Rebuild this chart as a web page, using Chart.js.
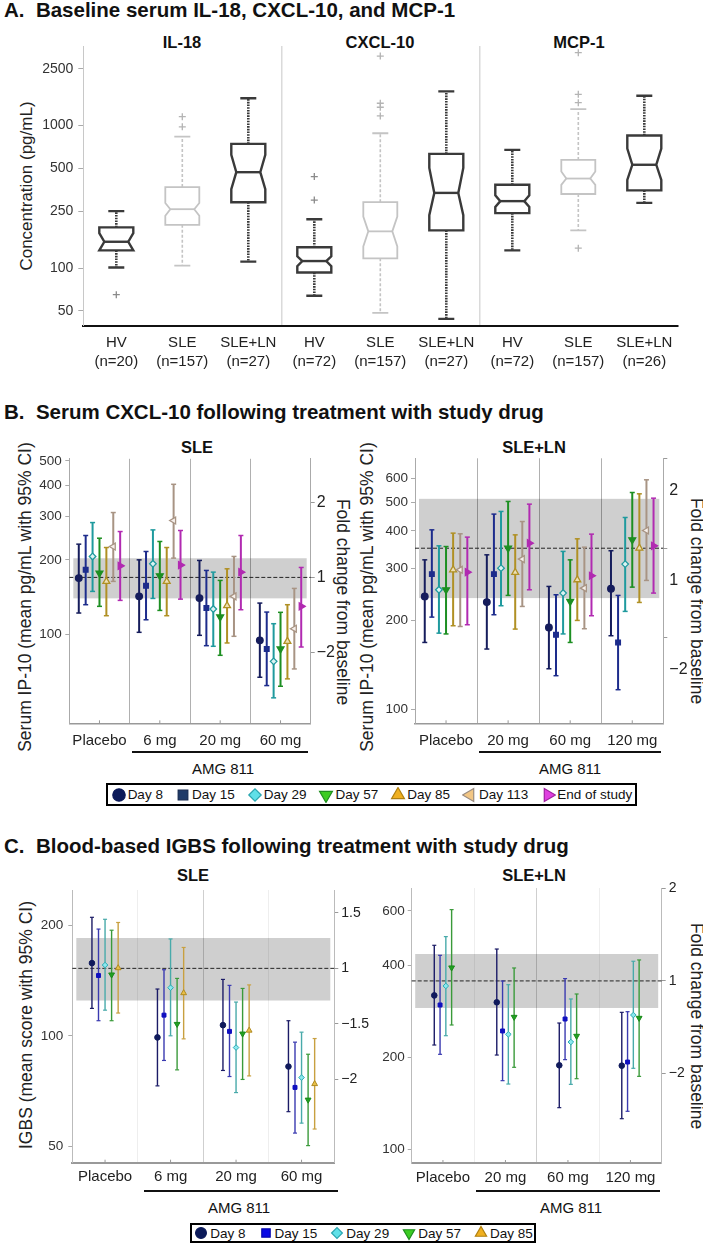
<!DOCTYPE html>
<html>
<head>
<meta charset="utf-8">
<script src="https://cdn.jsdelivr.net/npm/chart.js@4.4.0/dist/chart.umd.min.js"></script>
<style>
  body { margin: 0; width: 703px; height: 1246px; position: relative; overflow: hidden; background: #fff;
         font-family: "Liberation Sans", Arial, Helvetica, sans-serif; color: #111; }
  canvas.ch { position: absolute; }
  .ptitle { position: absolute; left: 4px; font-weight: bold; font-size: 20.5px; line-height: 20px; white-space: pre; }
  .sub { position: absolute; font-weight: bold; font-size: 16.5px; line-height: 1; transform: translate(-50%, -50%); white-space: nowrap; }
  .amg { position: absolute; font-size: 15px; line-height: 1; transform: translate(-50%, -50%); white-space: nowrap; }
  .uline { position: absolute; height: 0; border-top: 2px solid #111; }
  .vt { position: absolute; font-size: 17.5px; line-height: 1; white-space: nowrap; color: #222; }
  .vt.l { transform: translate(-50%, -50%) rotate(-90deg); }
  .vt.r { transform: translate(-50%, -50%) rotate(90deg); }
  .legend { position: absolute; border: 2px solid #000; box-sizing: border-box; display: flex;
            justify-content: center; align-items: center; gap: 12px; font-size: 13.5px; }
  .li { display: inline-flex; align-items: center; white-space: nowrap; }
  .li canvas { margin-right: 1px; }
</style>
</head>
<body>

<div class="ptitle" style="top:0px">A.  Baseline serum IL-18, CXCL-10, and MCP-1</div>
<div class="ptitle" style="top:402px">B.  Serum CXCL-10 following treatment with study drug</div>
<div class="ptitle" style="top:836px">C.  Blood-based IGBS following treatment with study drug</div>

<div class="sub" style="left:182px; top:42px">IL-18</div>
<div class="sub" style="left:380px; top:42px">CXCL-10</div>
<div class="sub" style="left:579px; top:42px">MCP-1</div>
<div class="vt l" style="left:26px; top:186px; font-size:17px">Concentration (pg/mL)</div>

<div class="sub" style="left:197px; top:447px">SLE</div>
<div class="sub" style="left:534px; top:447px">SLE+LN</div>
<div class="vt l" style="left:26px; top:597px">Serum IP-10 (mean pg/mL with 95% CI)</div>
<div class="vt r" style="left:342px; top:602px">Fold change from baseline</div>
<div class="vt l" style="left:368px; top:597px">Serum IP-10 (mean pg/mL with 95% CI)</div>
<div class="vt r" style="left:696px; top:601px">Fold change from baseline</div>
<div class="uline" style="left:132px; width:176px; top:751px"></div>
<div class="uline" style="left:479px; width:182px; top:751px"></div>
<div class="amg" style="left:223px; top:768px">AMG 811</div>
<div class="amg" style="left:570px; top:768px">AMG 811</div>
<div class="legend" id="legB" style="left:106px; top:783px; width:531px; height:23px"></div>

<div class="sub" style="left:193px; top:875px">SLE</div>
<div class="sub" style="left:534px; top:875px">SLE+LN</div>
<div class="vt l" style="left:27px; top:1025px">IGBS (mean score with 95% CI)</div>
<div class="vt r" style="left:696px; top:1026px">Fold change from baseline</div>
<div class="uline" style="left:144px; width:194px; top:1190px"></div>
<div class="uline" style="left:476px; width:184px; top:1190px"></div>
<div class="amg" style="left:239px; top:1207px">AMG 811</div>
<div class="amg" style="left:571px; top:1207px">AMG 811</div>
<div class="legend" id="legC" style="left:190px; top:1223px; width:346px; height:20px"></div>

<script>
// ---- Panel A: baseline box plots (pg/mL) ----
const catsA = [['HV', '(n=20)'], ['SLE', '(n=157)'], ['SLE+LN', '(n=27)'],
               ['HV', '(n=72)'], ['SLE', '(n=157)'], ['SLE+LN', '(n=27)'],
               ['HV', '(n=72)'], ['SLE', '(n=157)'], ['SLE+LN', '(n=26)']];
const whiskLoA = [101, 104, 111, 64, 48.4, 44, 133, 184, 287];
const q1A      = [133, 201, 290, 93, 117, 184, 243, 331, 351];
const notchLoA = [133, 233, 358, 103, 142, 235, 269, 384, 416];
const medA     = [153, 259, 471, 112, 181, 337, 295, 425, 531];
const notchHiA = [176, 286, 623, 121, 230, 505, 324, 476, 690];
const q3A      = [193, 370, 744, 140, 290, 633, 384, 574, 853];
const whiskHiA = [251, 837, 1555, 220, 884, 1740, 675, 1306, 1619];
const outCatA  = [0, 1, 1, 3, 3, 4, 4, 4, 4, 7, 7, 7, 7];
const outValA  = [65, 1156, 980, 439, 300, 3078, 1435, 1345, 1169, 3250, 1659, 1449, 138];
const yTicksA  = [50, 100, 250, 500, 1000, 2500];

// ---- Panel B: serum CXCL-10 (mean pg/mL, 95% CI), one row per visit, one column per dose ----
const daysB = ['Day 8', 'Day 15', 'Day 29', 'Day 57', 'Day 85', 'Day 113', 'End of study'];
const dosesSle = ['Placebo', '6 mg', '20 mg', '60 mg'];
const dosesLn = ['Placebo', '20 mg', '60 mg', '120 mg'];

const meanBSle = [[168.9, 142.6, 140.3, 94.9], [182.4, 157.3, 128, 87.6], [206.4, 192.8, 126.8, 78.1],
                  [176.9, 172.6, 117.8, 87.6], [163.8, 163.8, 130.8, 94], [226.3, 287.9, 142.6, 105.7],
                  [189.2, 190.5, 178.5, 130]];
const loBSle   = [[122.2, 102.2, 99.4, 67.4], [132, 114.8, 90.3, 62.4], [149.3, 139.9, 89.8, 55.7],
                  [130, 125.2, 82.6, 62], [119.2, 119.2, 92.6, 66.4], [163.8, 203.2, 98.5, 72.8],
                  [137.4, 139, 126, 89.2]];
const hiBSle   = [[231.3, 200, 198.9, 134], [250.6, 216.1, 181.3, 123.3], [282.5, 264, 178.5, 110.7],
                  [244.4, 237.1, 165.3, 123], [224.2, 224.2, 184.1, 132], [310, 402.7, 206.4, 153.5],
                  [260, 262.5, 250.6, 186.4]];

const meanBLn = [[240.8, 230.4, 189.3, 255.5], [286.3, 286.3, 178.8, 168.5], [253.5, 299.9, 247.1, 309.4],
                 [253.5, 350.2, 231.6, 373.6], [296, 290, 274, 350.2], [296, 321.6, 256.8, 401.7],
                 [290.7, 364, 282.6, 356.5]];
const loBLn   = [[168.5, 160.1, 137.4, 177.5], [205.1, 208.9, 130.2, 116.8], [181.1, 224, 180, 214.4],
                 [180, 242.7, 168.5, 258.8], [191.8, 186.9, 199.9, 229.8], [190.7, 222.8, 187.4, 272.6],
                 [193.3, 253.5, 207.3, 247.1]];
const hiBLn   = [[319.8, 332.5, 260.2, 343.2], [403.6, 456, 243.9, 242.7], [356.5, 465.5, 341.4, 444.2],
                 [354.6, 503, 319.8, 539.2], [393.4, 388.2, 376.5, 533.7], [391.4, 430.5, 352.8, 595],
                 [381.4, 492.6, 390.4, 516]];

const baseBSle = 170, bandBSle = [140, 203];
const baseBLn = 350, bandBLn = [237.7, 513.4];
const yTicksBSle = [100, 200, 300, 400, 500];
const yTicksBLn = [100, 200, 300, 400, 500, 600];
const foldTicksB = [0.5, 1, 2];
const foldLabelsB = ['\u22122', '1', '2'];

// ---- Panel C: blood IGBS (mean score, 95% CI) ----
const daysC = ['Day 8', 'Day 15', 'Day 29', 'Day 57', 'Day 85'];
const meanCSle = [[157.6, 99, 106.9, 82.5], [145.8, 113.8, 102.8, 72.4], [155.7, 135.1, 92.9, 77],
                  [146.6, 107.6, 101.3, 67], [152.8, 130.7, 103.4, 74]];
const loCSle   = [[118.7, 73.1, 80.5, 62.2], [109.9, 85.7, 77.5, 54.4], [117.4, 100, 70.1, 57.9],
                  [109.9, 80.8, 76.1, 50.3], [115.3, 98.1, 77.8, 55.8]];
const hiCSle   = [[209.9, 134, 142.3, 109.9], [195, 151.2, 137.1, 96.1], [207.3, 183.3, 123.5, 102.3],
                  [193.6, 143.2, 134.5, 89.1], [203.2, 173.8, 137.5, 98.3]];

const meanCLn = [[318.4, 302.3, 188.4, 187.9], [296.3, 243.8, 266.7, 193.1], [341.8, 237.7, 224.4, 274.8],
                 [392.2, 270.7, 234.8, 268.7]];
const loCLn   = [[219.4, 203.5, 137.1, 126.2], [204.6, 167.9, 196.6, 133.4], [235.3, 163.7, 163.3, 184.2],
                 [255, 185.6, 170.4, 173.4]];
const hiCLn   = [[463.8, 451, 258.8, 280.4], [430.2, 354.8, 361.2, 281.8], [495, 345.1, 310, 411.4],
                 [606.2, 391.2, 321.8, 415.5]];

const baseCSle = 152.5, bandCSle = [124.7, 184.4];
const baseCLn = 355, bandCLn = [289.7, 434.5];
const yTicksCSle = [50, 100, 200];
const yTicksCLn = [100, 200, 400, 600];
const foldTicksCSle = [0.5, 0.707, 1, 1.414];
const foldLabelsCSle = ['\u22122', '\u22121.5', '1', '1.5'];
const foldTicksCLn = [0.5, 1, 2];
const foldLabelsCLn = ['\u22122', '1', '2'];

// ---- styles ----
Chart.defaults.font.family = '"Liberation Sans", Arial, Helvetica, sans-serif';
Chart.defaults.color = '#222';
Chart.defaults.animation = false;
Chart.defaults.responsive = false;
Chart.defaults.plugins.legend.display = false;
Chart.defaults.plugins.tooltip.enabled = false;

const lookB = [
  { style: 'circle', bar: '#161d5c', fill: '#161d5c', line: '#161d5c' },
  { style: 'rect', bar: '#1d2c8c', fill: '#1d2c8c', line: '#1d2c8c' },
  { style: 'rectRot', bar: '#1f9a9e', fill: '#dcf4f4', line: '#1f9a9e' },
  { style: 'triangle', rot: 180, bar: '#1d8f22', fill: '#1d8f22', line: '#1d8f22', k: 1.2 },
  { style: 'triangle', bar: '#b09024', fill: '#eee0b4', line: '#b09024', k: 1.2 },
  { style: 'triangle', rot: 270, bar: '#a89484', fill: '#f6efea', line: '#a89484', k: 1.2 },
  { style: 'triangle', rot: 90, bar: '#b12ab1', fill: '#b12ab1', line: '#b12ab1', k: 1.2 }
];
const legLookB = [
  { style: 'circle', fill: '#0c1a5a', line: '#0c1a5a' },
  { style: 'rect', fill: '#1f3a68', line: '#142850', k: 1.1 },
  { style: 'rectRot', fill: '#60e0e8', line: '#2aa6b0' },
  { style: 'triangle', rot: 180, fill: '#3ccc22', line: '#1f8f1f', k: 1.2 },
  { style: 'triangle', fill: '#f0b020', line: '#b08010', k: 1.2 },
  { style: 'triangle', rot: 270, fill: '#f2c684', line: '#9a8c80', k: 1.2 },
  { style: 'triangle', rot: 90, fill: '#e040e0', line: '#a020a0', k: 1.2 }
];
const lookC = [
  { style: 'circle', bar: '#1b1b66', fill: '#101a5c', line: '#101a5c' },
  { style: 'rect', bar: '#3a3ab0', fill: '#1010c0', line: '#1010c0' },
  { style: 'rectRot', bar: '#48aaaa', fill: '#8ce8ee', line: '#2aaab4' },
  { style: 'triangle', rot: 180, bar: '#3a9a3a', fill: '#22a022', line: '#1a8a1a', k: 1.2 },
  { style: 'triangle', bar: '#c8a040', fill: '#e8c048', line: '#b08a20', k: 1.2 }
];
const legLookC = [
  { style: 'circle', fill: '#0c1a5a', line: '#0c1a5a' },
  { style: 'rect', fill: '#0a0ae6', line: '#0808b0', k: 1.1 },
  { style: 'rectRot', fill: '#60e0e8', line: '#2aa6b0' },
  { style: 'triangle', rot: 180, fill: '#3ccc22', line: '#1f8f1f', k: 1.2 },
  { style: 'triangle', fill: '#f0b020', line: '#b08010', k: 1.2 }
];

function addCanvas(box) {
  const cv = document.createElement('canvas');
  cv.className = 'ch';
  cv.width = box[2];
  cv.height = box[3];
  cv.style.left = box[0] + 'px';
  cv.style.top = box[1] + 'px';
  document.body.appendChild(cv);
  return cv;
}

// ---- Panel A chart ----
const boxPlugin = {
  id: 'boxes',
  afterDatasetsDraw(chart) {
    const { ctx, scales: { x, y } } = chart;
    const py = v => y.getPixelForValue(v);
    const hw = 17, ins = 5, cap = 8;
    ctx.save();
    catsA.forEach((c, i) => {
      const light = c[0] === 'SLE';
      const col = light ? '#c4c4c4' : '#3a3a3a';
      const cx = x.getPixelForValue(i);
      ctx.strokeStyle = col;
      ctx.lineWidth = light ? 1.6 : 2.6;
      ctx.setLineDash(light ? [3, 2] : [1.6, 1.1]);
      ctx.beginPath();
      ctx.moveTo(cx, py(q3A[i])); ctx.lineTo(cx, py(whiskHiA[i]));
      ctx.moveTo(cx, py(q1A[i])); ctx.lineTo(cx, py(whiskLoA[i]));
      ctx.stroke();
      ctx.setLineDash([]);
      ctx.lineWidth = light ? 1.8 : 2.4;
      ctx.beginPath();
      [whiskHiA[i], whiskLoA[i]].forEach(v => { ctx.moveTo(cx - cap, py(v)); ctx.lineTo(cx + cap, py(v)); });
      ctx.stroke();
      ctx.fillStyle = '#fff';
      ctx.beginPath();
      ctx.moveTo(cx - hw, py(q3A[i]));
      ctx.lineTo(cx + hw, py(q3A[i]));
      ctx.lineTo(cx + hw, py(notchHiA[i]));
      ctx.lineTo(cx + hw - ins, py(medA[i]));
      ctx.lineTo(cx + hw, py(notchLoA[i]));
      ctx.lineTo(cx + hw, py(q1A[i]));
      ctx.lineTo(cx - hw, py(q1A[i]));
      ctx.lineTo(cx - hw, py(notchLoA[i]));
      ctx.lineTo(cx - hw + ins, py(medA[i]));
      ctx.lineTo(cx - hw, py(notchHiA[i]));
      ctx.closePath();
      ctx.fill();
      ctx.stroke();
      ctx.beginPath();
      ctx.moveTo(cx - hw + ins, py(medA[i]));
      ctx.lineTo(cx + hw - ins, py(medA[i]));
      ctx.stroke();
    });
    outCatA.forEach((ci, k) => {
      const light = catsA[ci][0] === 'SLE';
      ctx.strokeStyle = light ? '#b4b4b4' : '#8a8a8a';
      ctx.lineWidth = 1.3;
      Chart.helpers.drawPoint(ctx, { pointStyle: 'cross', radius: 3.5, borderWidth: 1.3 },
        x.getPixelForValue(ci), py(outValA[k]));
    });
    ctx.restore();
  }
};

new Chart(addCanvas([0, 0, 703, 380]), {
  type: 'bar',
  data: { labels: catsA, datasets: [{ data: [] }] },
  options: {
    devicePixelRatio: 1,
    layout: { padding: { top: 46, right: 25.7, left: 0, bottom: 0 } },
    scales: {
      x: {
        grid: { offset: true, drawTicks: false, lineWidth: 1.5,
                color: c => (c.index === 3 || c.index === 6) ? '#dadada' : 'rgba(0,0,0,0)' },
        border: { color: '#111', width: 2 },
        ticks: { font: { size: 15, lineHeight: 1.27 }, color: '#222', padding: 8, maxRotation: 0, autoSkip: false },
        afterFit: s => { s.height = 54.3; }
      },
      y: {
        type: 'logarithmic', min: 39.4, max: 3620,
        afterBuildTicks: s => { s.ticks = yTicksA.map(v => ({ value: v })); },
        ticks: { callback: v => String(v), font: { size: 14 }, color: '#333', padding: 5 },
        grid: { drawOnChartArea: false, tickLength: 5, color: '#aaa' },
        border: { color: '#c8c8c8', width: 1 },
        afterFit: s => { s.width = 83.3; }
      }
    }
  },
  plugins: [boxPlugin]
});

// ---- Panels B and C: error-bar charts ----
function makeErrPlugin(s) {
  return {
    id: 'errbars',
    beforeDatasetsDraw(chart) {
      const { ctx, chartArea: a, scales: { x, y } } = chart;
      ctx.save();
      const yt = y.getPixelForValue(s.band[1]), yb = y.getPixelForValue(s.band[0]);
      ctx.fillStyle = 'rgba(0,0,0,0.19)';
      ctx.fillRect(a.left + s.bandInset, yt, a.right - a.left - 2 * s.bandInset, yb - yt);
      const yl = y.getPixelForValue(s.base);
      ctx.strokeStyle = '#222';
      ctx.lineWidth = 1;
      ctx.setLineDash([4, 2]);
      ctx.beginPath(); ctx.moveTo(a.left, yl); ctx.lineTo(a.right, yl); ctx.stroke();
      ctx.setLineDash([]);
      ctx.strokeStyle = '#999';
      s.doses.forEach((d, i) => {
        const px = x.getPixelForValue(i);
        ctx.beginPath(); ctx.moveTo(px, a.bottom); ctx.lineTo(px, a.bottom - 3); ctx.stroke();
      });
      ctx.restore();
    },
    afterDatasetsDraw(chart) {
      const { ctx, scales: { y } } = chart;
      ctx.save();
      chart.data.datasets.forEach((ds, k) => {
        const lk = s.look[k];
        chart.getDatasetMeta(k).data.forEach((el, i) => {
          const px = el.x;
          ctx.strokeStyle = lk.bar;
          ctx.lineWidth = s.capLW;
          ds.data[i].forEach(v => {
            const py = y.getPixelForValue(v);
            ctx.beginPath(); ctx.moveTo(px - s.capW / 2, py); ctx.lineTo(px + s.capW / 2, py); ctx.stroke();
          });
          ctx.fillStyle = lk.fill;
          ctx.strokeStyle = lk.line;
          ctx.lineWidth = s.markLW;
          Chart.helpers.drawPoint(ctx, { pointStyle: lk.style, rotation: lk.rot || 0,
            radius: s.markR * (lk.k || 1), borderWidth: s.markLW }, px, y.getPixelForValue(ds.mean[i]));
        });
      });
      ctx.restore();
    }
  };
}

function errorChart(f, s) {
  const cv = addCanvas(f.canvas);
  const yW = f.area[0] - f.canvas[0];
  const y2W = f.canvas[0] + f.canvas[2] - f.area[1];
  const padTop = f.area[2] - f.canvas[1];
  const xH = f.canvas[1] + f.canvas[3] - f.area[3];
  new Chart(cv, {
    type: 'bar',
    data: {
      labels: s.doses,
      datasets: s.mean.map((m, k) => ({
        label: s.days[k],
        data: s.lo[k].map((v, i) => [v, s.hi[k][i]]),
        mean: m,
        backgroundColor: s.look[k].bar,
        categoryPercentage: s.catPct,
        barPercentage: 1,
        maxBarThickness: s.barW
      }))
    },
    options: {
      devicePixelRatio: 1,
      layout: { padding: { top: padTop, left: 0, right: 0, bottom: 0 } },
      scales: {
        x: {
          grid: { offset: true, drawTicks: false, lineWidth: 1, color: s.gridColor },
          border: { color: s.axisColor, width: s.bottomW },
          ticks: { font: { size: 15 }, color: '#222', padding: s.xPad, maxRotation: 0, autoSkip: false },
          afterFit: a => { a.height = xH; }
        },
        y: {
          type: 'logarithmic', position: 'left', min: s.range[0], max: s.range[1],
          afterBuildTicks: a => { a.ticks = s.yTicks.map(v => ({ value: v })); },
          ticks: { callback: v => String(v), font: { size: 13.5 }, color: '#333', padding: s.yPad },
          grid: { drawOnChartArea: false, tickLength: 4, color: '#aaa' },
          border: { color: s.sideColor, width: 1 },
          afterFit: a => { a.width = yW; }
        },
        y2: {
          type: 'logarithmic', position: 'right', min: s.range[0] / s.base, max: s.range[1] / s.base,
          afterBuildTicks: a => { a.ticks = s.fold.map(v => ({ value: v })); },
          ticks: { callback: (v, i) => s.foldLabels[i], font: { size: s.foldSize }, color: '#222',
                   padding: s.foldPad, labelOffset: s.foldOffset || 0 },
          grid: { drawOnChartArea: false, tickLength: 4, color: '#999' },
          border: { color: s.sideColor, width: 1 },
          afterFit: a => { a.width = y2W; }
        }
      }
    },
    plugins: [makeErrPlugin(s)]
  });
}

const styleB = { catPct: 0.8, barW: 2, capW: 5, capLW: 1.5, markR: 3.3, markLW: 1.3, bandInset: 4,
                 gridColor: '#b0b0b0', axisColor: '#999', sideColor: '#aaa', bottomW: 1.5,
                 xPad: 8.4, yPad: 3.6, foldSize: 16, foldPad: 2 };
const styleC = { barW: 1.4, capW: 4, capLW: 1.2, markR: 2.8, markLW: 1, bandInset: 4,
                 axisColor: '#999', sideColor: '#bbb', bottomW: 2,
                 xPad: 5.6, yPad: 5, foldSize: 14, foldPad: 3 };
const gridC = c => c.index === 2 ? '#cfcfcf' : (c.index === 1 || c.index === 3 ? '#eeeeee' : 'rgba(0,0,0,0)');

errorChart({ canvas: [0, 440, 355, 320], area: [69.3, 310.7, 458.8, 723.3] }, Object.assign({}, styleB, {
  doses: dosesSle, days: daysB, mean: meanBSle, lo: loBSle, hi: hiBSle, look: lookB,
  base: baseBSle, band: bandBSle, range: [44, 510], yTicks: yTicksBSle,
  fold: foldTicksB, foldLabels: foldLabelsB
}));
errorChart({ canvas: [350, 440, 353, 320], area: [415, 663.3, 458.3, 723.3] }, Object.assign({}, styleB, {
  doses: dosesLn, days: daysB, mean: meanBLn, lo: loBLn, hi: hiBLn, look: lookB,
  base: baseBLn, band: bandBLn, range: [90, 703], yTicks: yTicksBLn,
  fold: foldTicksB, foldLabels: foldLabelsB, foldOffset: 32, yPad: 3
}));
errorChart({ canvas: [0, 870, 372, 320], area: [72.3, 334.3, 890, 1162.7] }, Object.assign({}, styleC, {
  catPct: 0.5, gridColor: gridC,
  doses: dosesSle, days: daysC, mean: meanCSle, lo: loCSle, hi: hiCSle, look: lookC,
  base: baseCSle, band: bandCSle, range: [45.2, 249], yTicks: yTicksCSle,
  fold: foldTicksCSle, foldLabels: foldLabelsCSle
}));
errorChart({ canvas: [350, 870, 353, 320], area: [411.7, 661.7, 888, 1163] }, Object.assign({}, styleC, {
  catPct: 0.37, gridColor: gridC,
  doses: dosesLn, days: daysC.slice(0, 4), mean: meanCLn, lo: loCLn, hi: hiCLn, look: lookC,
  base: baseCLn, band: bandCLn, range: [90.5, 713], yTicks: yTicksCLn,
  fold: foldTicksCLn, foldLabels: foldLabelsCLn, yPad: 3, bandInset: 3.5
}));

// ---- legends ----
function buildLegend(id, days, looks, r) {
  const box = document.getElementById(id);
  days.forEach((d, k) => {
    const item = document.createElement('span');
    item.className = 'li';
    const c = document.createElement('canvas');
    c.width = 16; c.height = 16;
    const g = c.getContext('2d');
    const lk = looks[k];
    g.fillStyle = lk.fill;
    g.strokeStyle = lk.line;
    g.lineWidth = 1.2;
    Chart.helpers.drawPoint(g, { pointStyle: lk.style, rotation: lk.rot || 0, radius: r * (lk.k || 1), borderWidth: 1.2 }, 8, 8);
    item.appendChild(c);
    item.appendChild(document.createTextNode(d));
    box.appendChild(item);
  });
}
buildLegend('legB', daysB, legLookB, 6.2);
buildLegend('legC', daysC, legLookC, 5.4);
</script>
</body>
</html>
